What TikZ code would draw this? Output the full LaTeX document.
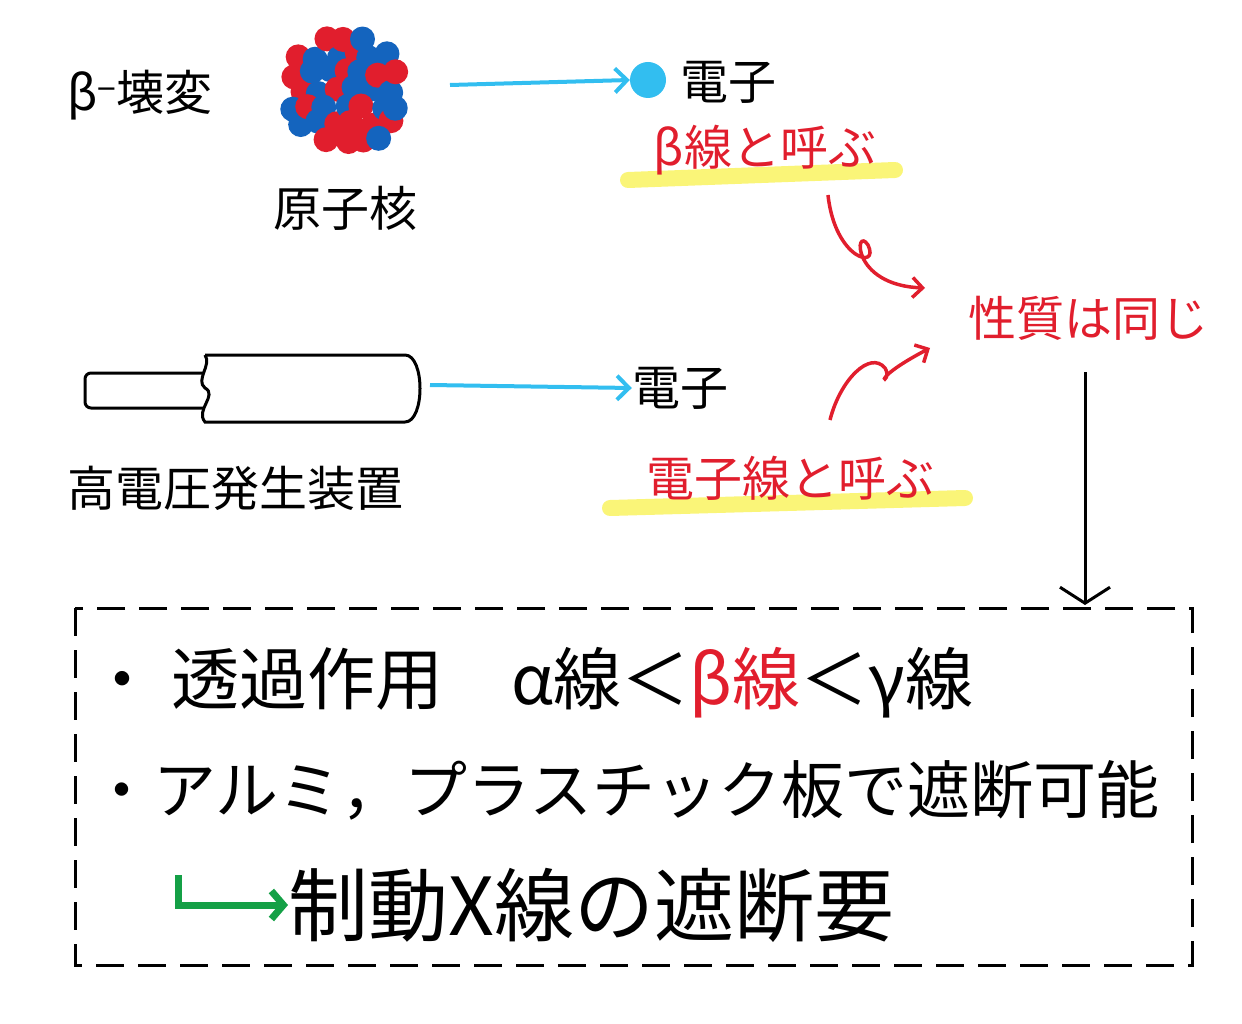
\documentclass[tikz,border=0pt]{standalone}
\usepackage{fontspec}
\setmainfont{Noto Sans CJK JP}
\usetikzlibrary{arrows.meta}
\definecolor{cy}{RGB}{50,190,240}
\definecolor{rd}{RGB}{225,30,45}
\definecolor{bl}{RGB}{20,100,190}
\definecolor{yl}{RGB}{250,245,120}
\definecolor{gr}{RGB}{20,160,70}
\tikzset{
 lbl/.style={font=\fontsize{48}{52}\selectfont,inner sep=0},
 big/.style={font=\fontsize{63}{66}\selectfont,inner sep=0},
 rlbl/.style={lbl,text=rd},
 cyarrow/.style={cy,line width=4pt,-{Straight Barb[length=12pt,width=24pt]}},
 rarrow/.style={rd,line width=3.5pt,-{Straight Barb[length=10pt,width=20pt]}},
 hl/.style={yl,line width=16pt,line cap=round}
}
\begin{document}
\begin{tikzpicture}[x=1pt,y=-1pt]
\useasboundingbox (0,0) rectangle (1242,1024);
\node[lbl] (bd) at (140,95) {β\textsuperscript{−}壊変};
\coordinate (nuc) at (345,90);
\pgfmathsetseed{7}
\foreach \i in {0,...,6}{\foreach \j in {0,...,6}{
 \pgfmathsetmacro{\xx}{(\i-3)*18+mod(\j,2)*9+rand*4}
 \pgfmathsetmacro{\yy}{(\j-3)*17+rand*4}
 \pgfmathsetmacro{\d}{sqrt(\xx*\xx+\yy*\yy)}
 \pgfmathsetmacro{\c}{rnd}
 \ifdim\d pt<60pt
  \ifdim\c pt<0.5pt \fill[bl] ([shift={(\xx,\yy)}]nuc) circle (12.5);
  \else \fill[rd] ([shift={(\xx,\yy)}]nuc) circle (12.5);\fi
 \fi}}
\node[lbl] (gsk) at (345,208) {原子核};
\node[circle,fill=cy,minimum size=36pt,inner sep=0] (dot) at (648,80) {};
\node[lbl] (e1) at (728,82) {電子};
\draw[cyarrow] (450,85) -- (dot.west);
\draw[hl] (628,180) -- (895,170);
\node[rlbl] (b1) at (765,150) {β線と呼ぶ};
\draw[line width=3pt,rounded corners=6pt] (212,373) -- (85,373) -- (85,408) -- (212,408);
\draw[line width=3pt,fill=white] (205,355) -- (405,355) .. controls (425,355) and (425,422) .. (405,422) -- (205,422) .. controls (195,410) and (218,395) .. (205,388) .. controls (195,380) and (212,365) .. (205,355);
\node[lbl] (hv) at (235,488) {高電圧発生装置};
\node[lbl] (e2) at (680,388) {電子};
\draw[cyarrow] (430,385) -- (e2.west);
\draw[hl] (610,508) -- (965,498);
\node[rlbl] (b2) at (790,478) {電子線と呼ぶ};
\node[rlbl] (same) at (1088,318) {性質は同じ};
\draw[rarrow] (828,195) .. controls (835,260) and (880,270) .. (868,245) .. controls (855,225) and (850,285) .. (925,288);
\draw[rarrow] (830,420) .. controls (840,380) and (870,350) .. (885,368) .. controls (895,385) and (860,385) .. (930,348);
\coordinate (boxtop) at (1085,605);
\draw[line width=3pt,-{Straight Barb[length=16pt,width=50pt]}] (1085,372) -- (boxtop);
\draw[line width=3pt,dash pattern=on 28pt off 14pt] (75,608) rectangle (1192,965);
\node[big,anchor=west,font=\fontsize{68}{72}\selectfont] (l1) at (88,683) {・ 透過作用　α線＜\textcolor{rd}{β線}＜γ線};
\node[big,anchor=west] (l2) at (90,790) {・アルミ，プラスチック板で遮断可能};
\node[big,anchor=west,font=\fontsize{80}{84}\selectfont] (l3) at (288,905) {制動X線の遮断要};
\draw[gr,line width=7pt,-{Straight Barb[length=12pt,width=28pt]}] (178,875) |- (l3.west);
\end{tikzpicture}
\end{document}
